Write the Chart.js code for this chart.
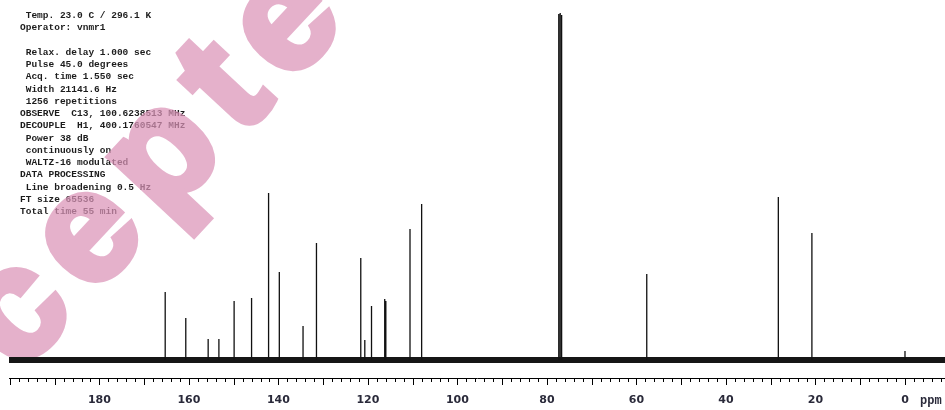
<!DOCTYPE html>
<html>
<head>
<meta charset="utf-8">
<script src="https://cdn.jsdelivr.net/npm/chart.js@4.4.1/dist/chart.umd.min.js"></script>
<style>
  html, body { margin: 0; padding: 0; background: #fff; }
  #wrap { width: 945px; height: 410px; position: relative; }
</style>
</head>
<body>
<div id="wrap"><canvas id="c" width="945" height="410"></canvas></div>
<script>
// ---- data (13C NMR, CDCl3) ----
const peakShifts  = [165.3, 160.7, 155.7, 153.3, 149.9, 146.0, 142.2, 139.8, 134.5, 131.5,
                     121.6, 120.7, 119.2, 116.25, 116.0, 110.6, 108.0,
                     77.36, 77.04, 76.72, 57.7, 28.3, 20.8, 0.0];
const peakHeights = [68, 42, 21, 21, 59, 62, 167, 88, 34, 117,
                     102, 20, 54, 61, 59, 131, 156,
                     346, 347, 345, 86, 163, 127, 9];
const tickLabels  = [180, 160, 140, 120, 100, 80, 60, 40, 20, 0];
const axisRange   = { from: 200.2, to: -8.94 };
const minorTickStep = 2;
const majorTickStep = 10;
const paramLines = [
  " Temp. 23.0 C / 296.1 K",
  "Operator: vnmr1",
  "",
  " Relax. delay 1.000 sec",
  " Pulse 45.0 degrees",
  " Acq. time 1.550 sec",
  " Width 21141.6 Hz",
  " 1256 repetitions",
  "OBSERVE  C13, 100.6238513 MHz",
  "DECOUPLE  H1, 400.1760547 MHz",
  " Power 38 dB",
  " continuously on",
  " WALTZ-16 modulated",
  "DATA PROCESSING",
  " Line broadening 0.5 Hz",
  "FT size 65536",
  "Total time 55 min"
];
const watermarkText = "Accepted";
const unitLabel = "ppm";

// ---- build datasets from the arrays ----
const peakPoints = [];
peakShifts.forEach((s, i) => {
  peakPoints.push({ x: s, y: 0 });
  peakPoints.push({ x: s, y: peakHeights[i] });
  peakPoints.push({ x: s, y: null });
});
const baselinePoints = [{ x: axisRange.from, y: 0 }, { x: axisRange.to, y: 0 }];

const decorPlugin = {
  id: 'decor',
  beforeDatasetsDraw(chart) {
    const ctx = chart.ctx;
    // parameter text
    ctx.save();
    ctx.fillStyle = '#1c1c1c';
    ctx.font = 'bold 9.5px "Liberation Mono", "DejaVu Sans Mono", monospace';
    ctx.textBaseline = 'middle';
    ctx.textAlign = 'left';
    paramLines.forEach((t, i) => {
      ctx.fillText(t, 20, 15.7 + i * 12.25);
    });
    ctx.restore();
    // watermark (drawn on an offscreen layer, then laid over with transparency)
    const off = document.createElement('canvas');
    off.width = chart.width; off.height = chart.height;
    const o = off.getContext('2d');
    o.translate(-141.5, 546.6);
    o.rotate(-47 * Math.PI / 180);
    o.fillStyle = 'rgb(219,148,184)';
    o.strokeStyle = 'rgb(219,148,184)';
    o.lineJoin = 'miter';
    o.lineWidth = 8;
    o.font = 'bold 155px "Liberation Sans", Arial, sans-serif';
    try { o.letterSpacing = '19px'; } catch (e) {}
    o.textBaseline = 'alphabetic';
    o.textAlign = 'left';
    o.strokeText(watermarkText, 0, 0);
    o.fillText(watermarkText, 0, 0);
    ctx.save();
    ctx.globalAlpha = 0.72;
    ctx.drawImage(off, 0, 0);
    ctx.restore();
  },
  afterDraw(chart) {
    const ctx = chart.ctx;
    const xs = chart.scales.x;
    const yAxis = xs.top;
    ctx.save();
    ctx.strokeStyle = '#000';
    ctx.lineWidth = 1;
    const start = Math.ceil(axisRange.to / minorTickStep) * minorTickStep;
    for (let v = start; v <= axisRange.from; v += minorTickStep) {
      const x = Math.round(xs.getPixelForValue(v)) + 0.5;
      const len = (v % majorTickStep === 0) ? 7 : 4;
      ctx.beginPath();
      ctx.moveTo(x, yAxis);
      ctx.lineTo(x, yAxis + len);
      ctx.stroke();
    }
    // ppm unit label
    ctx.fillStyle = '#2a2a3a';
    ctx.font = 'bold 12px "Liberation Mono", "DejaVu Sans Mono", monospace';
    ctx.textBaseline = 'top';
    ctx.textAlign = 'left';
    ctx.fillText(unitLabel, xs.getPixelForValue(0) + 15, yAxis + 17);
    ctx.restore();
  }
};

new Chart(document.getElementById('c'), {
  type: 'line',
  data: {
    datasets: [
      {
        label: 'baseline',
        data: baselinePoints,
        borderColor: '#161616',
        borderWidth: 6,
        pointRadius: 0,
        order: 2
      },
      {
        label: 'peaks',
        data: peakPoints,
        borderColor: '#111',
        borderWidth: 1.3,
        pointRadius: 0,
        spanGaps: false,
        order: 1
      }
    ]
  },
  options: {
    responsive: false,
    animation: false,
    devicePixelRatio: 1,
    layout: { padding: { left: 9, right: 0, top: 0, bottom: 0 } },
    plugins: { legend: { display: false }, tooltip: { enabled: false } },
    scales: {
      x: {
        type: 'linear',
        reverse: true,
        min: axisRange.to,
        max: axisRange.from,
        afterBuildTicks(scale) { scale.ticks = tickLabels.map(v => ({ value: v })); },
        afterFit(scale) { scale.height = 32; },
        grid: { display: false, drawTicks: false },
        border: { display: true, color: '#000', width: 1 },
        ticks: {
          padding: 16,
          maxRotation: 0,
          autoSkip: false,
          color: '#2a2a3a',
          font: { family: '"DejaVu Sans", Verdana, sans-serif', size: 11, weight: 'bold' },
          callback: v => String(v)
        }
      },
      y: {
        display: false,
        min: -18,
        max: 360
      }
    }
  },
  plugins: [decorPlugin]
});
</script>
</body>
</html>
